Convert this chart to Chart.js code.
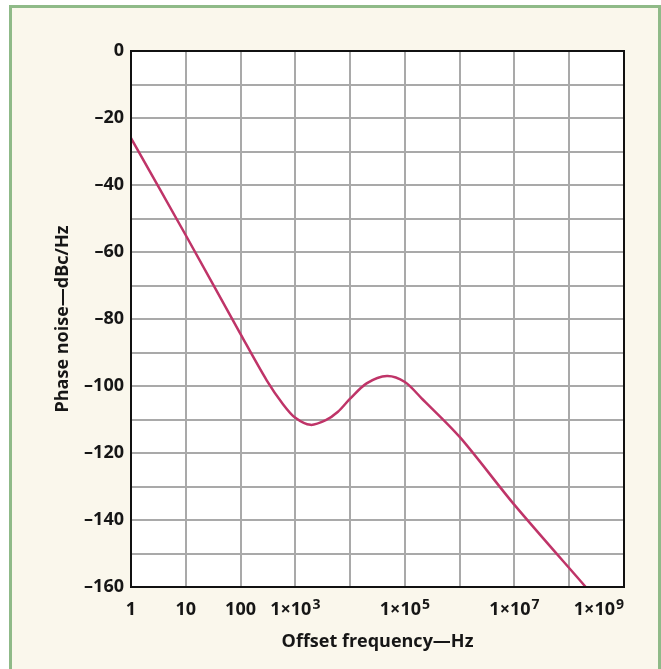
<!DOCTYPE html>
<html>
<head>
<meta charset="utf-8">
<script src="https://cdn.jsdelivr.net/npm/chart.js@4.4.1/dist/chart.umd.min.js"></script>
<style>
  html, body { margin: 0; padding: 0; background: #fff; }
  body { width: 661px; height: 669px; position: relative; overflow: hidden; }
  #panel { position: absolute; left: 9px; top: 5px; width: 646px; height: 680px; background: #faf7ec; border: 3px solid #8fba88; }
  #chart { position: absolute; left: 0; top: 0; }
</style>
</head>
<body>
<div id="panel"></div>
<canvas id="chart" width="661" height="669"></canvas>
<script>
// offset frequency (Hz) and phase noise (dBc/Hz)
const freqHz = [1, 10, 100, 300, 600, 1000, 1900, 3600, 6000, 10000, 20000, 47000, 100000, 200000,
  1000000, 10000000, 200000000];
const phaseNoise = [-26, -55, -84.5, -98.3, -105.5, -109.5, -111.6, -110.2, -107.7, -103.8, -99.2, -97, -98.8, -103.6,
  -115.2, -135.5, -160];

const xGridValues = [1, 10, 100, 1e3, 1e4, 1e5, 1e6, 1e7, 1e8, 1e9];
const xLabelValues = [1, 10, 100, 1e3, 1e5, 1e7, 1e9];
const xLabelBase = ['1', '10', '100', '1\u00d710', '1\u00d710', '1\u00d710', '1\u00d710'];
const xLabelExp = ['', '', '', '3', '5', '7', '9'];

const yMin = -160, yMax = 0, yStep = 10, yLabelEvery = 20;

const textColor = '#161616';
const gridColor = '#a9a9a9';
const fontFamily = '"Open Sans", "Liberation Sans", sans-serif';

const frame = {
  id: 'frame',
  beforeDraw(chart) {
    const { ctx, chartArea: a } = chart;
    ctx.save();
    ctx.fillStyle = '#ffffff';
    ctx.fillRect(a.left, a.top, a.right - a.left, a.bottom - a.top);
    ctx.restore();
  },
  afterDraw(chart) {
    const { ctx, chartArea: a, scales } = chart;
    const x = scales.x;
    ctx.save();
    ctx.strokeStyle = '#111';
    ctx.lineWidth = 2;
    ctx.strokeRect(a.left, a.top, a.right - a.left, a.bottom - a.top);

    // x tick labels with raised exponents
    ctx.fillStyle = textColor;
    ctx.textBaseline = 'alphabetic';
    ctx.textAlign = 'left';
    const baseline = a.bottom + 28;
    xLabelValues.forEach((v, i) => {
      ctx.font = 'bold 18px ' + fontFamily;
      const w1 = ctx.measureText(xLabelBase[i]).width;
      ctx.font = 'bold 14px ' + fontFamily;
      const w2 = xLabelExp[i] ? ctx.measureText(xLabelExp[i]).width + 1 : 0;
      let left = x.getPixelForValue(v) - (w1 + w2) / 2;
      if (left + w1 + w2 > a.right) left = a.right - w1 - w2;
      ctx.font = 'bold 18px ' + fontFamily;
      ctx.fillText(xLabelBase[i], left, baseline);
      if (xLabelExp[i]) {
        ctx.font = 'bold 14px ' + fontFamily;
        ctx.fillText(xLabelExp[i], left + w1 + 1, baseline - 6);
      }
    });
    ctx.restore();
  }
};

new Chart(document.getElementById('chart'), {
  type: 'line',
  data: {
    labels: freqHz,
    datasets: [{
      data: freqHz.map((f, i) => ({ x: f, y: phaseNoise[i] })),
      borderColor: '#bf3468',
      borderWidth: 2.5,
      pointRadius: 0,
      fill: false,
      tension: 0.3
    }]
  },
  options: {
    responsive: false,
    animation: false,
    layout: { padding: { left: 0, right: 37, top: 51, bottom: 0 } },
    plugins: { legend: { display: false }, tooltip: { enabled: false } },
    scales: {
      x: {
        type: 'logarithmic',
        min: 1,
        max: 1e9,
        afterBuildTicks: s => { s.ticks = xGridValues.map(v => ({ value: v })); },
        afterFit: s => { s.height = 82; },
        grid: { color: gridColor, lineWidth: 2, drawTicks: false },
        border: { display: false },
        ticks: { display: false },
        title: {
          display: true,
          text: 'Offset frequency\u2014Hz',
          color: textColor,
          font: { family: fontFamily, size: 18, weight: 'bold' },
          padding: { top: 0, bottom: 16 }
        }
      },
      y: {
        min: yMin,
        max: yMax,
        afterFit: s => { s.width = 131; },
        grid: { color: gridColor, lineWidth: 2, drawTicks: false },
        border: { display: false },
        ticks: {
          stepSize: yStep,
          padding: 7,
          color: textColor,
          font: { family: fontFamily, size: 18, weight: 'bold' },
          callback: v => (v % yLabelEvery === 0 ? (v === 0 ? '0' : '\u2013' + Math.abs(v)) : '')
        },
        title: {
          display: true,
          text: 'Phase noise\u2014dBc/Hz',
          color: textColor,
          font: { family: fontFamily, size: 18, weight: 'bold' },
          padding: { top: 52, bottom: 0 }
        }
      }
    }
  },
  plugins: [frame]
});
</script>
</body>
</html>
